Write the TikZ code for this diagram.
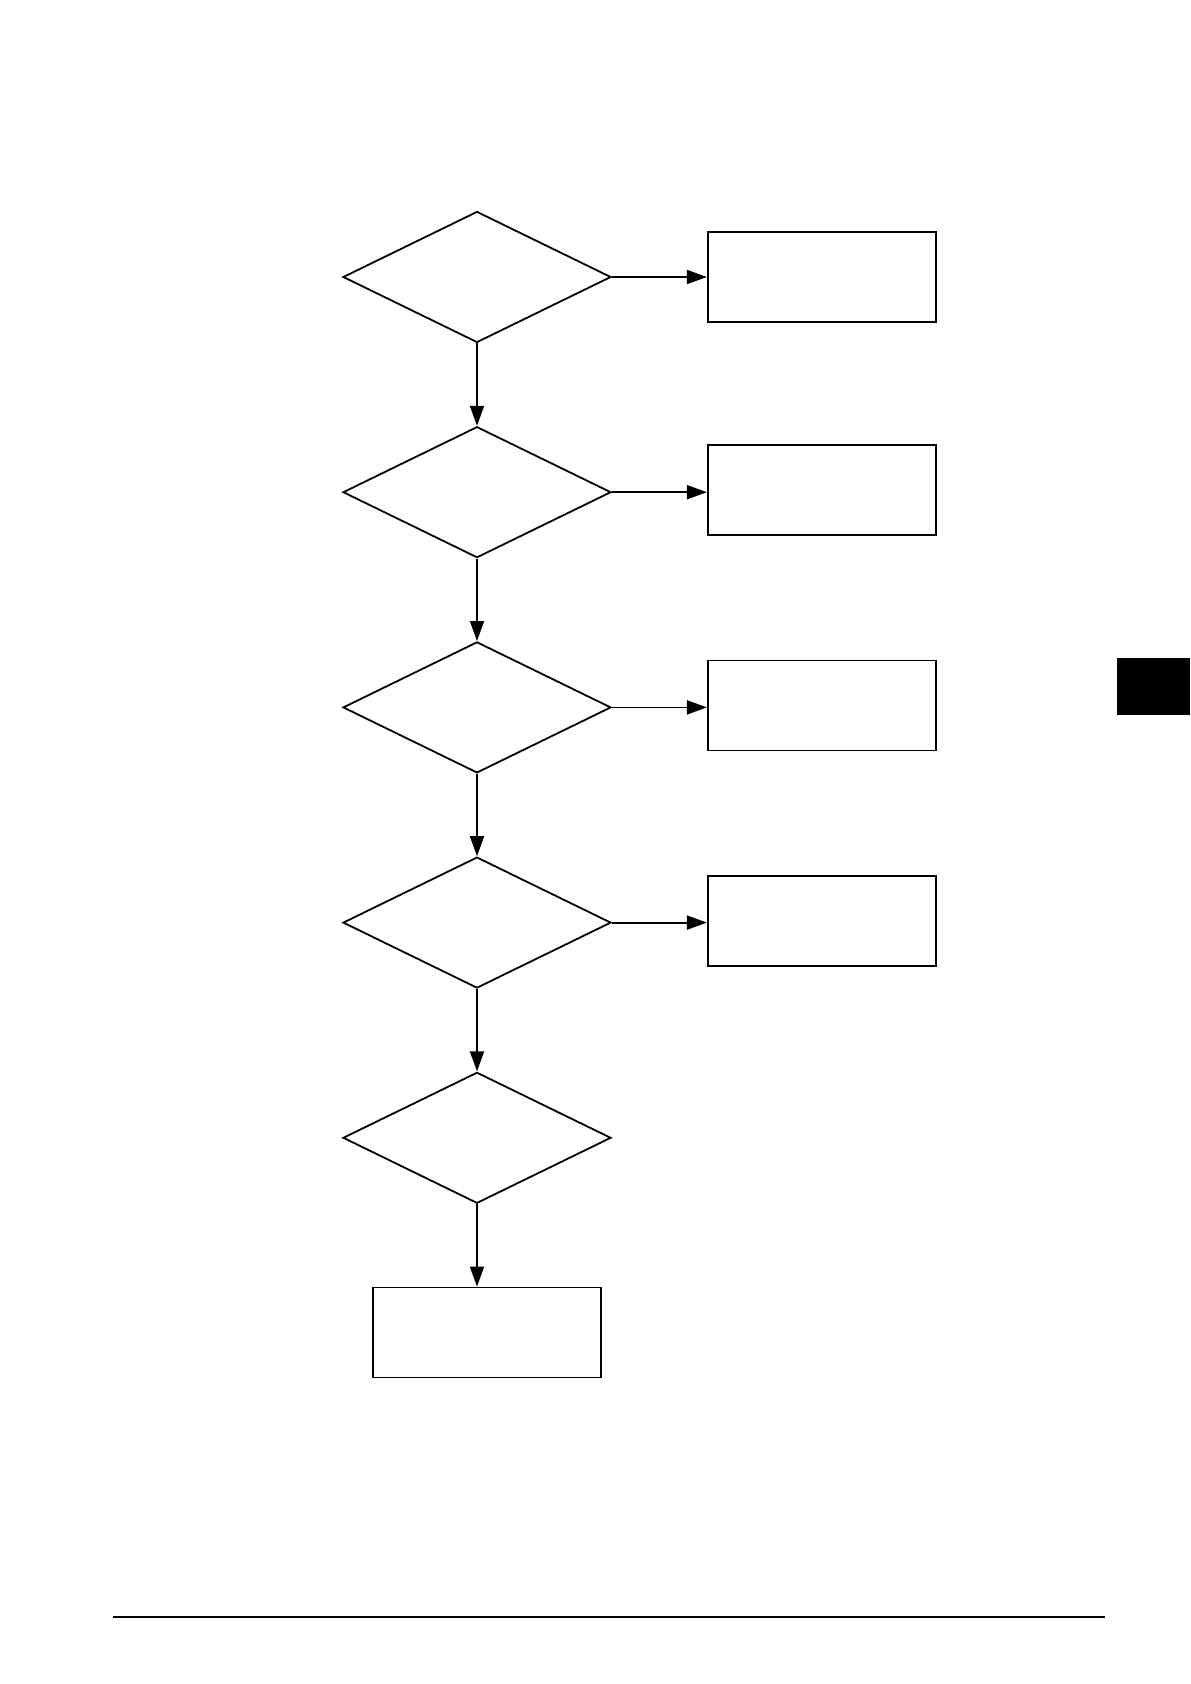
\documentclass[tikz,border=0pt]{standalone}
\usetikzlibrary{shapes.geometric,arrows.meta,positioning}
\begin{document}
\begin{tikzpicture}[>={Triangle[length=10pt,width=7pt]}, line width=0.9pt,
	node distance=41.2pt and 47.5pt,
	query/.style={diamond, draw, minimum width=134pt, minimum height=65.5pt, inner sep=0pt},
	outcome/.style={rectangle, draw, minimum width=114pt, minimum height=45pt, inner sep=0pt}]
\useasboundingbox (0,0) rectangle (595pt,-842pt);
% decision chain
\node[query] (q1) at (238.5pt,-138.5pt) {};
\node[query, below=of q1] (q2) {};
\node[query, below=of q2] (q3) {};
\node[query, below=of q3] (q4) {};
\node[query, below=of q4] (q5) {};
% outcomes
\node[outcome, right=of q1] (r1) {};
\node[outcome, right=of q2, yshift=1pt] (r2) {};
\node[outcome, right=of q3, yshift=1pt] (r3) {};
\node[outcome, right=of q4, yshift=1pt] (r4) {};
\node[outcome, below=of q5, xshift=5pt] (res) {};
% connectors
\draw[->] (q1) -- (q2);
\draw[->] (q2) -- (q3);
\draw[->] (q3) -- (q4);
\draw[->] (q4) -- (q5);
\draw[->] (q5.south) -- (q5.south |- res.north);
\draw[->] (q1.east) -- (q1.east -| r1.west);
\draw[->] (q2.east) -- (q2.east -| r2.west);
\draw[->] (q3.east) -- (q3.east -| r3.west);
\draw[->] (q4.east) -- (q4.east -| r4.west);
% page marks
\fill (558.5pt,-329pt) rectangle (595pt,-357.5pt);
\draw[line width=1pt] (56.5pt,-808.3pt) -- (552.5pt,-808.3pt);
\end{tikzpicture}
\end{document}
